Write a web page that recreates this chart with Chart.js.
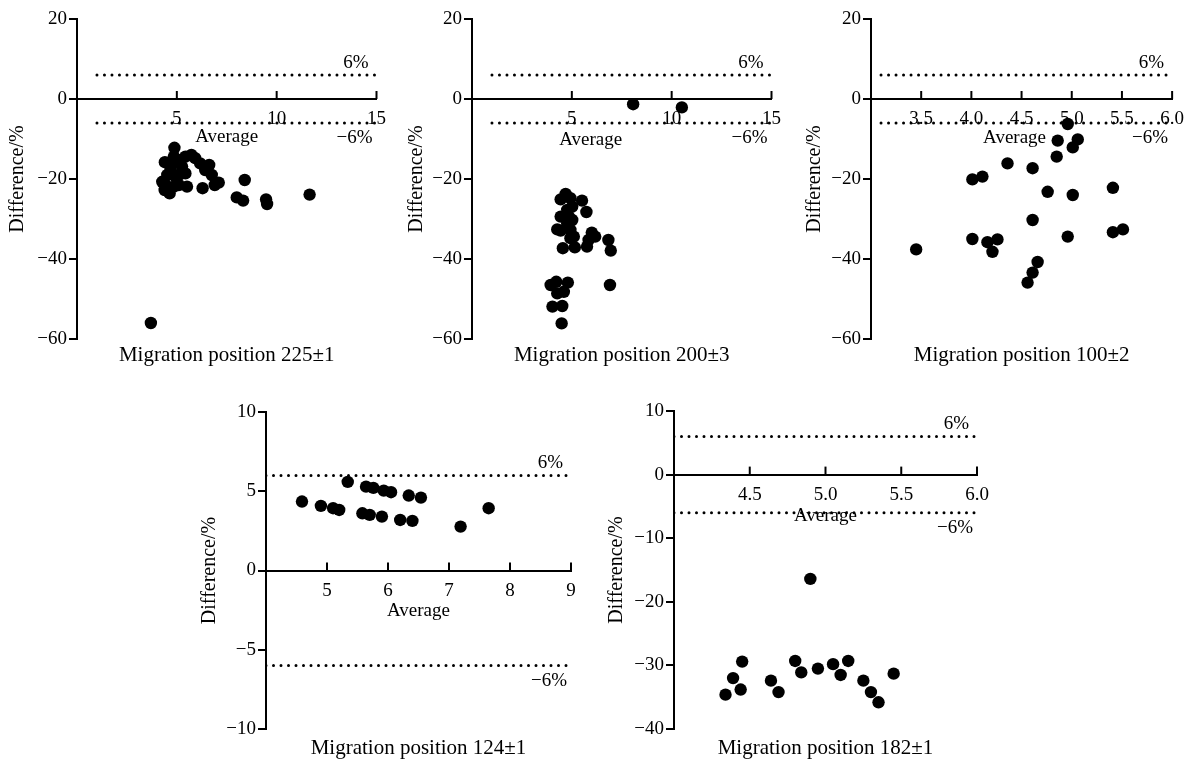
<!DOCTYPE html>
<html>
<head>
<meta charset="utf-8">
<script src="https://cdn.jsdelivr.net/npm/chart.js@4.4.0/dist/chart.umd.min.js"></script>
<style>
  body { margin: 0; background: #fff; width: 1193px; height: 760px; position: relative; overflow: hidden; }
  canvas { position: absolute; }
</style>
</head>
<body>
<canvas id="c1"></canvas>
<canvas id="c2"></canvas>
<canvas id="c3"></canvas>
<canvas id="c4"></canvas>
<canvas id="c5"></canvas>
<script>
// limits of agreement
const limits = [6, -6];

// Migration position 225±1
const p1X = [3.7, 4.88, 4.4, 4.27, 4.39, 4.64, 4.69, 4.85, 4.93, 5.1, 5.26, 5.43, 5.51, 5.73, 5.92, 6.17, 6.29, 6.42,
  6.62, 6.75, 6.9, 7.1, 8.4, 8.0, 8.32, 9.47, 9.52, 11.65, 4.52, 4.77, 5.18, 4.44, 4.85, 5.43, 5.1];
const p1Y = [-56, -12.2, -15.8, -20.7, -22.75, -23.6, -17.75, -14.4, -19.4, -21.5, -16.9, -18.6, -21.9, -14, -14.8, -16.1, -22.3, -17.75,
  -16.5, -19, -21.5, -20.9, -20.25, -24.6, -25.4, -25.1, -26.25, -23.9, -19, -16.1, -15.25, -21.5, -21.9, -14.4, -19];

// Migration position 200±3
const p2X = [8.07, 10.51, 4.49, 4.03, 4.52, 3.94, 4.22, 4.27, 4.6, 4.8, 6.91, 4.55, 5.15, 5.76, 4.27, 4.44, 4.93, 4.44,
  4.85, 4.44, 4.69, 4.93, 5.02, 4.77, 5.51, 5.73, 4.93, 5.1, 6.0, 6.17, 5.84, 6.83, 6.95, 4.77, 5.02];
const p2Y = [-1.3, -2.1, -56.1, -51.9, -51.75, -46.5, -45.7, -48.6, -48.2, -45.9, -46.5, -37.3, -37.1, -36.9, -32.6, -32.9, -32.75, -29.4,
  -29.4, -25.1, -23.75, -24.8, -26.9, -27.75, -25.4, -28.25, -34.8, -34.4, -33.4, -34.4, -35.25, -35.25, -37.9, -31.25, -30.25];

// Migration position 100±2
const p3X = [3.45, 4.01, 4.11, 4.01, 4.16, 4.21, 4.26, 4.36, 4.61, 4.61, 4.76, 4.56, 4.61, 4.66, 4.86, 4.85, 4.96, 5.01,
  5.06, 5.01, 4.96, 5.41, 5.41, 5.51];
const p3Y = [-37.6, -20.1, -19.4, -35, -35.8, -38.2, -35.1, -16.1, -17.3, -30.25, -23.2, -45.9, -43.4, -40.75, -10.4, -14.4, -6.25, -12.1,
  -10.1, -24, -34.4, -22.2, -33.3, -32.6];

// Migration position 124±1
const p4X = [4.59, 4.9, 5.1, 5.2, 5.34, 5.64, 5.76, 5.93, 6.05, 5.58, 5.7, 5.9, 6.2, 6.4, 6.34, 6.54, 7.19, 7.65];
const p4Y = [4.35, 4.08, 3.93, 3.82, 5.59, 5.29, 5.21, 5.04, 4.94, 3.61, 3.51, 3.4, 3.19, 3.13, 4.73, 4.6, 2.77, 3.93];

// Migration position 182±1
const p5X = [4.34, 4.39, 4.44, 4.45, 4.64, 4.69, 4.8, 4.84, 4.9, 4.95, 5.05, 5.1, 5.15, 5.25, 5.3, 5.35, 5.45];
const p5Y = [-34.6, -32, -33.8, -29.4, -32.4, -34.2, -29.3, -31.1, -16.4, -30.5, -29.8, -31.5, -29.3, -32.4, -34.2, -35.8, -31.3];

const fam = '"Liberation Serif", "DejaVu Serif", serif';
Chart.defaults.font.family = fam;
Chart.defaults.color = '#000';

const overlay = {
  id: 'overlay',
  beforeDatasetsDraw(chart, args, o) {
    const ctx = chart.ctx, a = chart.chartArea, x = chart.scales.x, y = chart.scales.y;
    const y0 = y.getPixelForValue(0);
    ctx.save();
    ctx.strokeStyle = '#000';
    ctx.lineWidth = 2;
    x.ticks.forEach(t => {
      if (t.value === x.min) return;
      const px = x.getPixelForValue(t.value);
      ctx.beginPath();
      ctx.moveTo(px, y0);
      ctx.lineTo(px, y0 - 8);
      ctx.stroke();
    });
    ctx.fillStyle = '#000';
    ctx.font = '19px ' + fam;
    ctx.textBaseline = 'middle';
    ctx.textAlign = 'center';
    ctx.fillText('Average', (a.left + a.right) / 2 + o.avgDx, y0 + o.avgDy);
    ctx.textAlign = 'right';
    ctx.fillText('6%', a.right - 8, y.getPixelForValue(limits[0]) - 12);
    ctx.fillText('\u22126%', a.right - 4, y.getPixelForValue(limits[1]) + 15);
    ctx.restore();
  }
};

function minus(v) { return v < 0 ? '\u2212' + Math.abs(v) : '' + v; }

function panel(id, box, xs, ys, xr, yr, lineX, title) {
  const cv = document.getElementById(id);
  cv.width = box.w; cv.height = box.h;
  cv.style.left = box.left + 'px'; cv.style.top = box.top + 'px';
  const a = box.area;
  const titlePadTop = box.titleY - a.b - 12.6;
  const titleH = 21 * 1.2 + titlePadTop;
  const pts = xs.map((v, i) => ({x: v, y: ys[i]}));
  const limitSets = limits.map(l => ({
    data: [{x: lineX[0], y: l}, {x: lineX[1], y: l}],
    showLine: true, borderColor: '#000', borderWidth: 3, borderDash: [0, 7.5],
    borderCapStyle: 'round', pointRadius: 0
  }));
  new Chart(cv, {
    type: 'scatter',
    data: {
      datasets: [...limitSets, {
        data: pts, backgroundColor: '#000', borderWidth: 0, pointRadius: 6.2, pointHoverRadius: 6.2
      }]
    },
    options: {
      responsive: false,
      animation: false,
      events: [],
      layout: {
        padding: {
          left: 0,
          top: a.t - box.top,
          right: box.left + box.w - a.r,
          bottom: box.h - (a.b - box.top) - titleH
        }
      },
      plugins: {
        legend: {display: false},
        tooltip: {enabled: false},
        title: {
          display: true, text: title, position: 'bottom', fullSize: false,
          color: '#000', font: {family: fam, size: 21, weight: 'normal'},
          padding: {top: titlePadTop, bottom: 0}
        },
        overlay: {avgDx: box.avgDx, avgDy: box.avgDy}
      },
      scales: {
        x: {
          type: 'linear', position: {y: 0}, min: xr[0], max: xr[1],
          ticks: {
            stepSize: xr[2], autoSkip: false, maxRotation: 0, padding: 9,
            color: '#000', font: {size: 19},
            callback: v => (Math.abs(v - xr[0]) < 1e-9 ? '' : (xr[3] ? v.toFixed(1) : '' + v))
          },
          grid: {drawOnChartArea: false, drawTicks: false},
          border: {color: '#000', width: 2}
        },
        y: {
          min: yr[0], max: yr[1],
          ticks: {stepSize: yr[2], padding: 2, color: '#000', font: {size: 19}, callback: minus},
          grid: {drawOnChartArea: false, color: '#000', lineWidth: 2, tickLength: 8},
          border: {color: '#000', width: 2},
          title: {
            display: true, text: 'Difference/%', color: '#000',
            font: {family: fam, size: 20}, padding: {top: box.yTitlePad, bottom: 0}
          },
          afterFit: s => { s.width = a.l - box.left; }
        }
      }
    },
    plugins: [overlay]
  });
}

panel('c1', {left: 0, top: 0, w: 395, h: 374, area: {l: 77, t: 19, r: 379, b: 339}, titleY: 355, yTitlePad: 6, avgDx: 0, avgDy: 38},
  p1X, p1Y, [0, 15, 5, false], [-60, 20, 20], [1, 15], 'Migration position 225\u00b11');
panel('c2', {left: 395, top: 0, w: 395, h: 374, area: {l: 472, t: 19, r: 775, b: 339}, titleY: 355, yTitlePad: 10, avgDx: -31, avgDy: 41},
  p2X, p2Y, [0, 15, 5, false], [-60, 20, 20], [1, 15], 'Migration position 200\u00b13');
panel('c3', {left: 790, top: 0, w: 403, h: 374, area: {l: 871, t: 19, r: 1174, b: 339}, titleY: 355, yTitlePad: 13, avgDx: -7, avgDy: 39},
  p3X, p3Y, [3, 6, 0.5, true], [-60, 20, 20], [3.1, 6], 'Migration position 100\u00b12');
panel('c4', {left: 190, top: 380, w: 400, h: 384, area: {l: 266, t: 412, r: 571, b: 729}, titleY: 748, yTitlePad: 8, avgDx: 0, avgDy: 41},
  p4X, p4Y, [4, 9, 1, false], [-10, 10, 5], [4, 9], 'Migration position 124\u00b11');
panel('c5', {left: 598, top: 380, w: 400, h: 384, area: {l: 674, t: 411, r: 977, b: 729}, titleY: 748, yTitlePad: 7, avgDx: 0, avgDy: 41},
  p5X, p5Y, [4, 6, 0.5, true], [-40, 10, 10], [4, 6], 'Migration position 182\u00b11');
</script>
</body>
</html>
